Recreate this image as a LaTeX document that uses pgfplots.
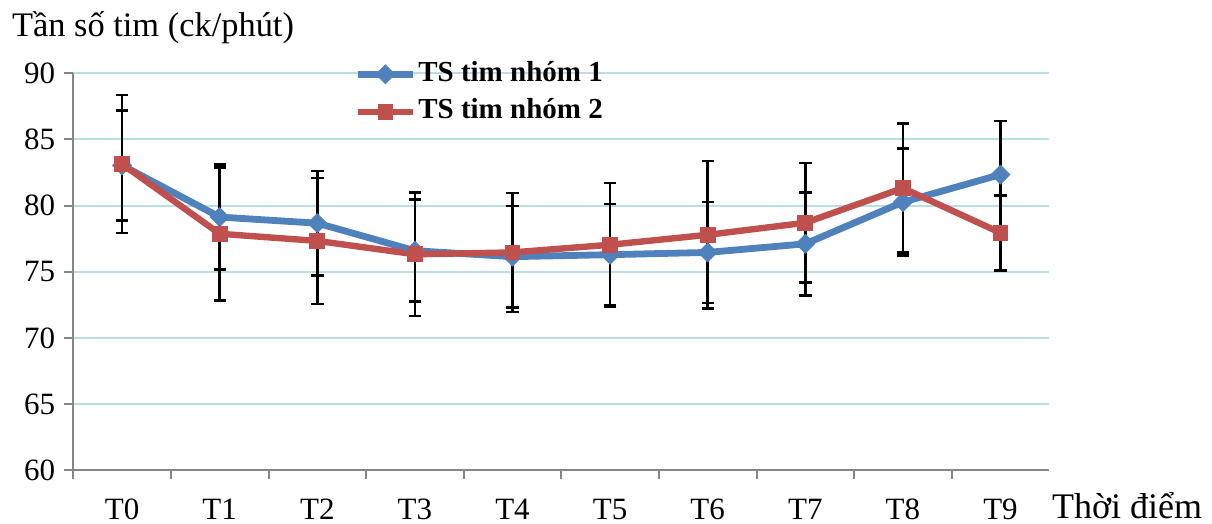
\documentclass[border=0pt]{standalone}
\usepackage{fontspec}
\setmainfont{Liberation Serif}
\usepackage{pgfplots}
\pgfplotsset{compat=1.18}
\definecolor{gridblue}{RGB}{185,222,232}
\definecolor{axgray}{RGB}{134,134,134}
\definecolor{sA}{RGB}{79,129,189}
\definecolor{sB}{RGB}{192,80,77}
\begin{document}
\begin{tikzpicture}
\path[use as bounding box] (-36.65pt,-26.75pt) rectangle (569.35pt,235.25pt);
\begin{axis}[
  at={(0pt,0pt)}, anchor=south west,
  scale only axis, width=488pt, height=198.6pt,
  xmin=-0.5, xmax=9.5, ymin=60, ymax=90,
  axis x line*=bottom, axis y line*=left,
  axis line style={axgray, line width=1pt},
  ytick={60,65,...,90},
  xtick={0,...,9}, xticklabels={T0,T1,T2,T3,T4,T5,T6,T7,T8,T9},
  minor xtick={-0.5,0.5,...,8.5},
  tick align=outside,
  major tick length=4.5pt, minor tick length=4.5pt,
  tick style={axgray, line width=1pt},
  major x tick style={draw=none},
  ymajorgrids, major grid style={gridblue, line width=1pt},
  /pgf/number format/assume math mode=true,
  ticklabel style={font=\fontsize{15.5}{18}\selectfont},
  yticklabel style={xshift=-1pt},
  xticklabel style={anchor=base, yshift=-20.25pt},
  legend style={draw=none, fill=none, at={(0.2877,0.9504)}, anchor=west,
    font=\bfseries\fontsize{14.5}{17}\selectfont, inner xsep=0pt, inner ysep=0pt,
    row sep=3.7pt, nodes={inner sep=1pt, text height=10pt, text depth=3pt}},
  legend cell align=left,
  legend image code/.code={\draw[mark repeat=2,mark phase=2] plot coordinates {(0pt,0pt) (13.75pt,0pt) (27.5pt,0pt)};},
  error bars/y dir=both, error bars/y explicit,
  error bars/error bar style={black, line width=1.3pt},
  error bars/error mark options={black, rotate=90, mark size=3.1pt, line width=1.3pt},
]
\addplot[sA, line width=3.4pt, mark=square*, mark size=3.3pt, mark options={rotate=45, line width=0.5pt, fill=sA, draw=sA}]
  coordinates {
  (0,83.05) +- (0,4.15)
  (1,79.14) +- (0,3.95)
  (2,78.68) +- (0,3.93)
  (3,76.60) +- (0,3.85)
  (4,76.15) +- (0,3.83)
  (5,76.30) +- (0,3.82)
  (6,76.47) +- (0,3.81)
  (7,77.12) +- (0,3.89)
  (8,80.27) +- (0,4.05)
  (9,82.35) +- (0,4.06)
  };
\addlegendentry{TS tim nhóm 1}
\addplot[sB, line width=3.2pt, mark=square*, mark size=3.7pt, mark options={line width=0.5pt, fill=sB, draw=sB}]
  coordinates {
  (0,83.15) +- (0,5.20)
  (1,77.88) +- (0,5.02)
  (2,77.34) +- (0,4.76)
  (3,76.33) +- (0,4.65)
  (4,76.47) +- (0,4.50)
  (5,77.05) +- (0,4.66)
  (6,77.80) +- (0,5.58)
  (7,78.71) +- (0,4.52)
  (8,81.33) +- (0,4.88)
  (9,77.95) +- (0,2.83)
  };
\addlegendentry{TS tim nhóm 2}
\end{axis}
\node[anchor=base west, inner sep=0pt, font=\fontsize{17.2}{20}\selectfont] at (-30.8pt,216.9pt) {Tần số tim (ck/phút)};
\node[anchor=base west, inner sep=0pt, font=\fontsize{18}{21}\selectfont] at (489.2pt,-24.25pt) {Thời điểm};
\end{tikzpicture}
\end{document}
